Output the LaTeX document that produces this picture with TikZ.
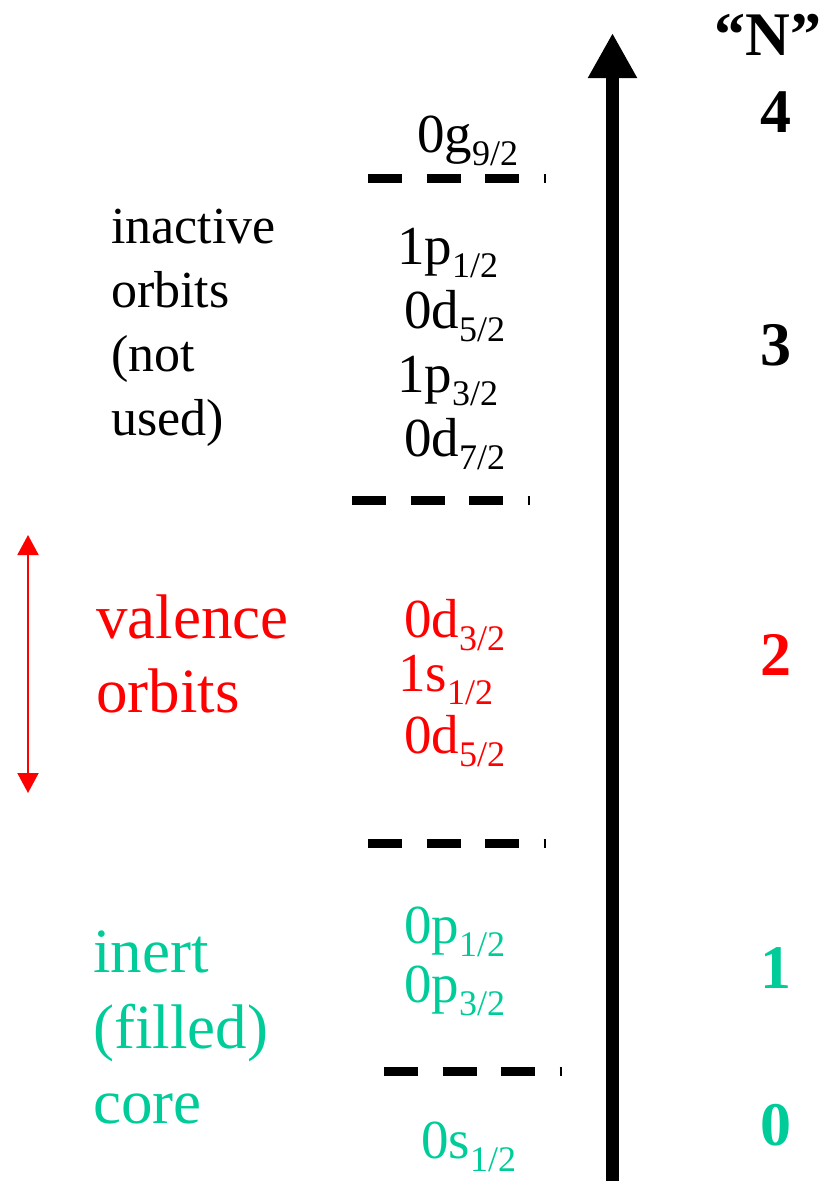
\documentclass[tikz,border=0pt]{standalone}
\usepackage{fontspec}
\setmainfont{Liberation Serif}
\usetikzlibrary{arrows.meta}
\definecolor{coreg}{RGB}{0,204,153}
\definecolor{valr}{RGB}{255,0,0}
\newcommand\orbsub[1]{\raisebox{-13pt}[\height][13pt]{\fontsize{36}{36}\selectfont #1}}
\begin{document}
\begin{tikzpicture}[x=1pt,y=-1pt,
  orb/.style={anchor=base west, inner sep=0pt, font=\fontsize{55}{64}\selectfont},
  smalllbl/.style={anchor=base west, inner sep=0pt, font=\fontsize{52}{64}\selectfont},
  biglbl/.style={anchor=base west, inner sep=0pt, font=\fontsize{63}{74}\selectfont},
  nlab/.style={anchor=base, inner sep=0pt, font=\fontsize{62}{62}\selectfont\bfseries},
  shellline/.style={line width=9pt, dash pattern=on 34pt off 24.5pt},
]
\useasboundingbox (0,0) rectangle (830,1181);

% axis
\coordinate (axb) at (612.5,1181);
\coordinate (axt) at (612.5,33);
\draw[line width=13pt, -{Triangle[width=46pt,length=45pt]}] (axb) -- (axt);

% shell separators
\coordinate (l1a) at (368,178); \coordinate (l1b) at (546,178);
\coordinate (l2a) at (352,500); \coordinate (l2b) at (530,500);
\coordinate (l3a) at (368,843); \coordinate (l3b) at (546,843);
\coordinate (l4a) at (384,1071); \coordinate (l4b) at (562,1071);
\draw[shellline] (l1a) -- (l1b);
\draw[shellline] (l2a) -- (l2b);
\draw[shellline] (l3a) -- (l3b);
\draw[shellline] (l4a) -- (l4b);

% orbitals
\node[orb] (g92) at (417,152) {0g\orbsub{9/2}};
\node[orb] (p12b) at (397,264) {1p\orbsub{1/2}};
\node[orb] (d52b) at (404,328) {0d\orbsub{5/2}};
\node[orb] (p32b) at (397,392) {1p\orbsub{3/2}};
\node[orb] (d72) at (404,456) {0d\orbsub{7/2}};
\node[orb, text=valr] (d32) at (404,637) {0d\orbsub{3/2}};
\node[orb, text=valr] (s12v) at (398,691) {1s\orbsub{1/2}};
\node[orb, text=valr] (d52v) at (404,753) {0d\orbsub{5/2}};
\node[orb, text=coreg] (p12) at (404,943) {0p\orbsub{1/2}};
\node[orb, text=coreg] (p32) at (404,1002) {0p\orbsub{3/2}};
\node[orb, text=coreg] (s12) at (421,1158) {0s\orbsub{1/2}};

% left labels
\node[smalllbl] (ia1) at (111,243) {inactive};
\node[smalllbl] (ia2) at (111,307) {orbits};
\node[smalllbl] (ia3) at (111,371) {(not};
\node[smalllbl] (ia4) at (111,435) {used)};
\node[biglbl, text=valr] (va1) at (96,638) {valence};
\node[biglbl, text=valr] (va2) at (96,712) {orbits};
\node[biglbl, text=coreg] (co1) at (93,972) {inert};
\node[biglbl, text=coreg] (co2) at (93,1048) {(filled)};
\node[biglbl, text=coreg] (co3) at (93,1123) {core};

% valence arrow
\coordinate (vat) at (28,535);
\coordinate (vab) at (28,793);
\draw[valr, line width=2pt, {Triangle[width=21pt,length=20pt]}-{Triangle[width=21pt,length=20pt]}] (vat) -- (vab);

% N labels
\node[nlab] (nN) at (768,55) {“N”};
\node[nlab] (n4) at (776,132) {4};
\node[nlab] (n3) at (776,365) {3};
\node[nlab, text=valr] (n2) at (776,675) {2};
\node[nlab, text=coreg] (n1) at (776,988) {1};
\node[nlab, text=coreg] (n0) at (776,1145) {0};
\end{tikzpicture}
\end{document}
